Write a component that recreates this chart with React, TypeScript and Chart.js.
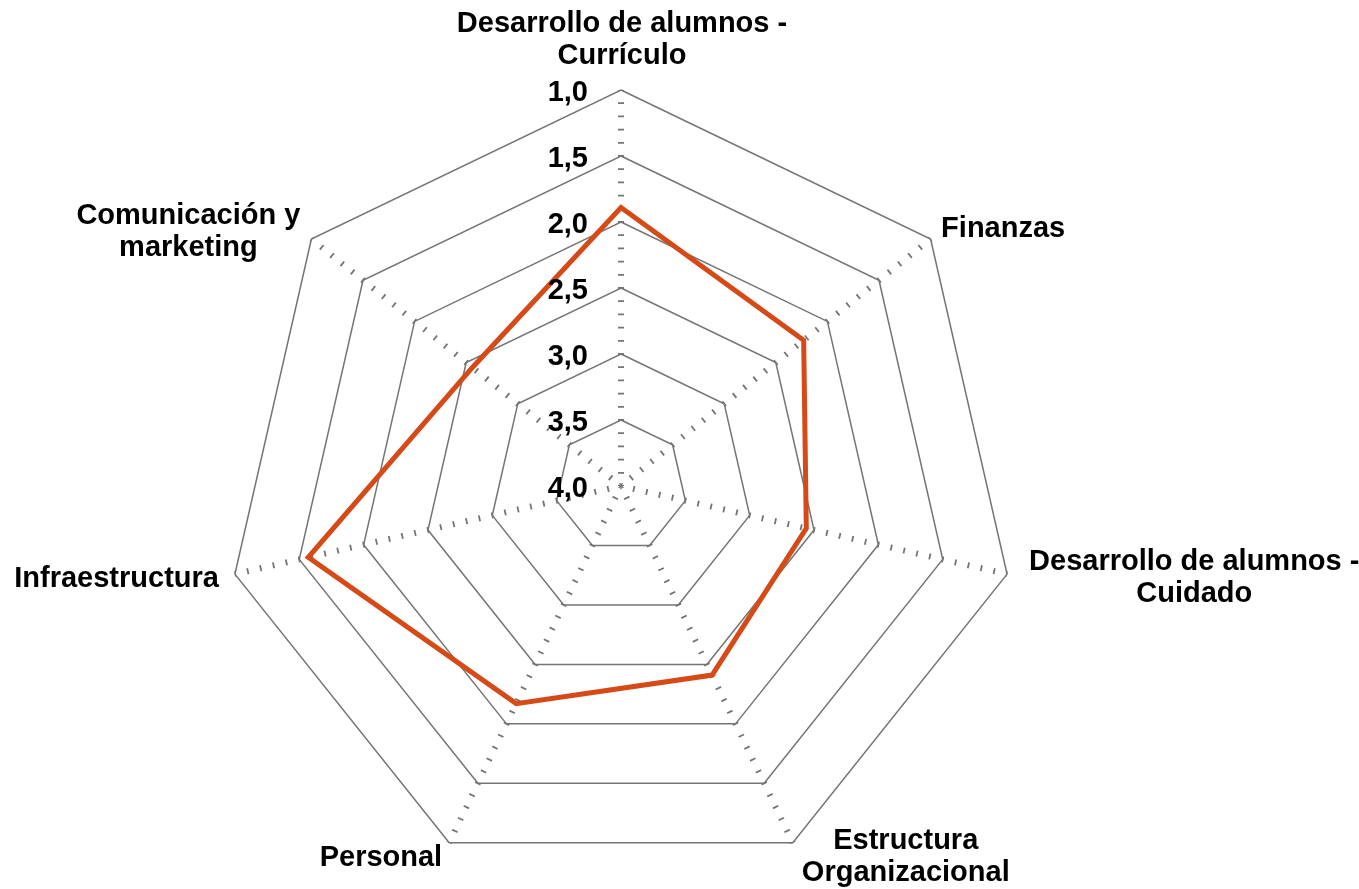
import React, { useEffect, useRef } from 'react';
import { Chart, registerables } from 'chart.js';

Chart.register(...registerables);

// ---- data ----
const categories: string[][] = [
  ['Desarrollo de alumnos -', 'Currículo'],
  ['Finanzas'],
  ['Desarrollo de alumnos -', 'Cuidado'],
  ['Estructura', 'Organizacional'],
  ['Personal'],
  ['Infraestructura'],
  ['Comunicación y', 'marketing'],
];
const scores = [1.89, 2.23, 2.56, 2.41, 2.17, 1.57, 2.56];
const tickValues = [1.0, 1.5, 2.0, 2.5, 3.0, 3.5, 4.0];
const tickLabels = ['1,0', '1,5', '2,0', '2,5', '3,0', '3,5', '4,0'];

// ---- styles ----
const ORANGE = '#D54A17';
const GRID = '#747474';
const FONT = "bold 29px 'Liberation Sans', Arial, Helvetica, sans-serif";
const LINE_PITCH = 32;

type LabelLayout = { mode: 'center' | 'left' | 'right'; dx: number; dy: number };
const labelLayouts: LabelLayout[] = [
  { mode: 'center', dx: 1, dy: -58 },
  { mode: 'left', dx: 10.5, dy: -2 },
  { mode: 'left', dx: 22, dy: -4 },
  { mode: 'left', dx: 9, dy: 6 },
  { mode: 'right', dx: -7, dy: 23 },
  { mode: 'right', dx: -16, dy: 13 },
  { mode: 'right', dx: -11, dy: -15 },
];

const labelPlugin = {
  id: 'radarLabels',
  afterDraw(chart: any) {
    const scale = chart.scales.r;
    const ctx = chart.ctx as CanvasRenderingContext2D;
    ctx.save();
    ctx.font = FONT;
    ctx.fillStyle = '#000000';
    ctx.textBaseline = 'alphabetic';
    // value tick labels, left of the vertical axis
    ctx.textAlign = 'right';
    tickValues.forEach((v, i) => {
      const d = scale.getDistanceFromCenterForValue(v);
      ctx.fillText(tickLabels[i], scale.xCenter - 33, scale.yCenter - d + 11);
    });
    // category labels
    const outer = scale.getDistanceFromCenterForValue(scale.min);
    ctx.textAlign = 'center';
    categories.forEach((lines, i) => {
      const p = scale.getPointPosition(i, outer);
      const lay = labelLayouts[i];
      const bw = Math.max(...lines.map((l) => ctx.measureText(l).width));
      let cx: number;
      if (lay.mode === 'center') cx = p.x + lay.dx;
      else if (lay.mode === 'left') cx = p.x + lay.dx + bw / 2;
      else cx = p.x + lay.dx - bw / 2;
      lines.forEach((l, k) => ctx.fillText(l, cx, p.y + lay.dy + k * LINE_PITCH));
    });
    ctx.restore();
  },
};

export default function App() {
  const ref = useRef<HTMLCanvasElement | null>(null);
  useEffect(() => {
    if (!ref.current) return;
    const chart = new Chart(ref.current, {
      type: 'radar',
      data: {
        labels: categories,
        datasets: [
          {
            data: scores,
            borderColor: ORANGE,
            backgroundColor: 'transparent',
            borderWidth: 5,
            fill: false,
            pointRadius: 0,
            pointHoverRadius: 0,
            tension: 0,
            borderJoinStyle: 'miter',
          } as any,
        ],
      },
      options: {
        responsive: false,
        animation: false,
        layout: { padding: { left: 225, top: 90, right: 342, bottom: 7 } },
        plugins: { legend: { display: false }, tooltip: { enabled: false } },
        scales: {
          r: {
            min: 1,
            max: 4,
            reverse: true,
            ticks: { stepSize: 0.5, display: false },
            pointLabels: { display: false },
            grid: { circular: false, color: GRID, lineWidth: 1.5 },
            angleLines: {
              display: true,
              color: GRID,
              lineWidth: 6,
              borderDash: [1.8, 11.4],
              borderDashOffset: 0.9,
            },
          } as any,
        },
      },
      plugins: [labelPlugin],
    });
    return () => chart.destroy();
  }, []);
  return (
    <div style={{ position: 'absolute', left: 0, top: 0, width: 1359, height: 889 }}>
      <canvas ref={ref} width={1359} height={889} style={{ display: 'block' }} />
    </div>
  );
}
